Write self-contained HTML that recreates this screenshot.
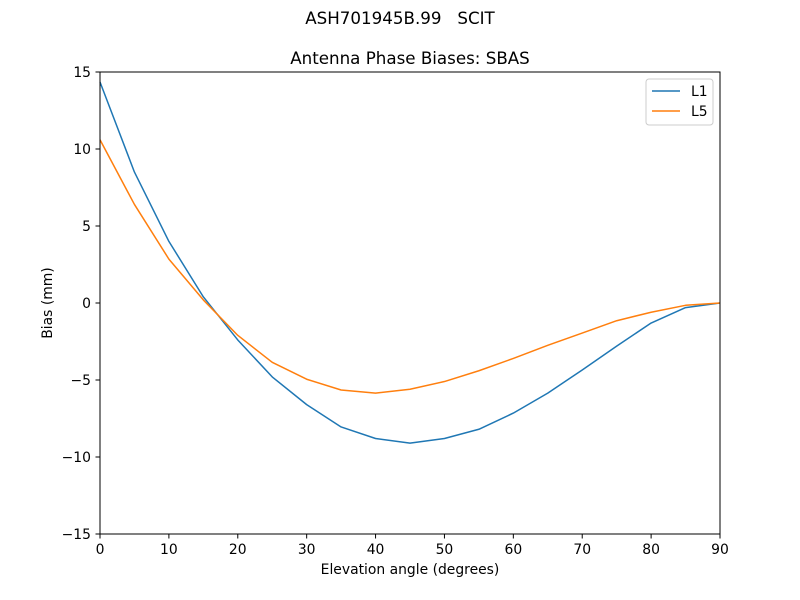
<!DOCTYPE html>
<html><head><meta charset="utf-8"><style>
body{margin:0;background:#fff;}
svg{display:block;font-family:"DejaVu Sans","Liberation Sans",sans-serif;}
</style></head><body>
<svg id="chart" width="800" height="600" viewBox="0 0 800 600">
<rect width="800" height="600" fill="#fff"/>
<text x="400" y="24" text-anchor="middle" font-size="16.7" style="white-space:pre" xml:space="preserve">ASH701945B.99   SCIT</text>
<text x="410" y="64" text-anchor="middle" font-size="16.7">Antenna Phase Biases: SBAS</text>
<g id="ticks"></g>
<g id="series"></g>
<rect x="100" y="72" width="620" height="462" fill="none" stroke="#000" stroke-width="1"/>
<text x="410" y="574" text-anchor="middle" font-size="13.9">Elevation angle (degrees)</text>
<text transform="translate(52,303) rotate(-90)" text-anchor="middle" font-size="13.9">Bias (mm)</text>
<g>
<rect x="646" y="79" width="67" height="46" rx="3" fill="#fff" stroke="#ccc"/>
<line x1="652" y1="91" x2="680" y2="91" stroke="#1f77b4" stroke-width="1.5"/>
<text x="691" y="96" font-size="13.9">L1</text>
<line x1="652" y1="111" x2="680" y2="111" stroke="#ff7f0e" stroke-width="1.5"/>
<text x="691" y="116" font-size="13.9">L5</text>
</g>
</svg>
<script>
const elevations = [0,5,10,15,20,25,30,35,40,45,50,55,60,65,70,75,80,85,90];
const l1Values = [14.35,8.5,4.0,0.4,-2.4,-4.8,-6.6,-8.05,-8.8,-9.1,-8.8,-8.2,-7.15,-5.85,-4.35,-2.8,-1.3,-0.3,0];
const l5Values = [10.6,6.4,2.85,0.2,-2.1,-3.85,-4.95,-5.65,-5.85,-5.6,-5.1,-4.4,-3.6,-2.75,-1.95,-1.15,-0.6,-0.15,0];
const xTicks = [0,10,20,30,40,50,60,70,80,90];
const yTicks = [15,10,5,0,-5,-10,-15];

const NS = "http://www.w3.org/2000/svg";
const xScale = v => 100 + (v - 0) / 90 * 620;
const yScale = v => 72 + (15 - v) / 30 * 462;
const tg = document.getElementById('ticks');
function mk(tag, attrs, parent){const e=document.createElementNS(NS,tag);for(const k in attrs)e.setAttribute(k,attrs[k]);parent.appendChild(e);return e;}
xTicks.forEach(t=>{
  const x=xScale(t);
  const l=mk('line',{x1:x,y1:534,x2:x,y2:538.5,stroke:'#000'},tg);
  
  
  const tx=mk('text',{x:x,y:554,'text-anchor':'middle','font-size':'13.9'},tg);
  tx.textContent=t;
  
  
});
yTicks.forEach(t=>{
  const y=yScale(t);
  const l=mk('line',{x1:95.5,y1:y,x2:100,y2:y,stroke:'#000'},tg);
  
  
  const tx=mk('text',{x:91,y:y+5,'text-anchor':'end','font-size':'13.9'},tg);
  tx.textContent=t<0?'\u2212'+Math.abs(t):t;
  
  
});
const sg=document.getElementById('series');
function line(vals,color,name){
  const pts=elevations.map((e,i)=>xScale(e).toFixed(2)+','+yScale(vals[i]).toFixed(2)).join(' ');
  const p=mk('polyline',{points:pts,fill:'none',stroke:color,'stroke-width':1.5,'stroke-linejoin':'round'},sg);
  
  
}
line(l1Values,'#1f77b4','l1-line');
line(l5Values,'#ff7f0e','l5-line');
</script>
</body></html>
